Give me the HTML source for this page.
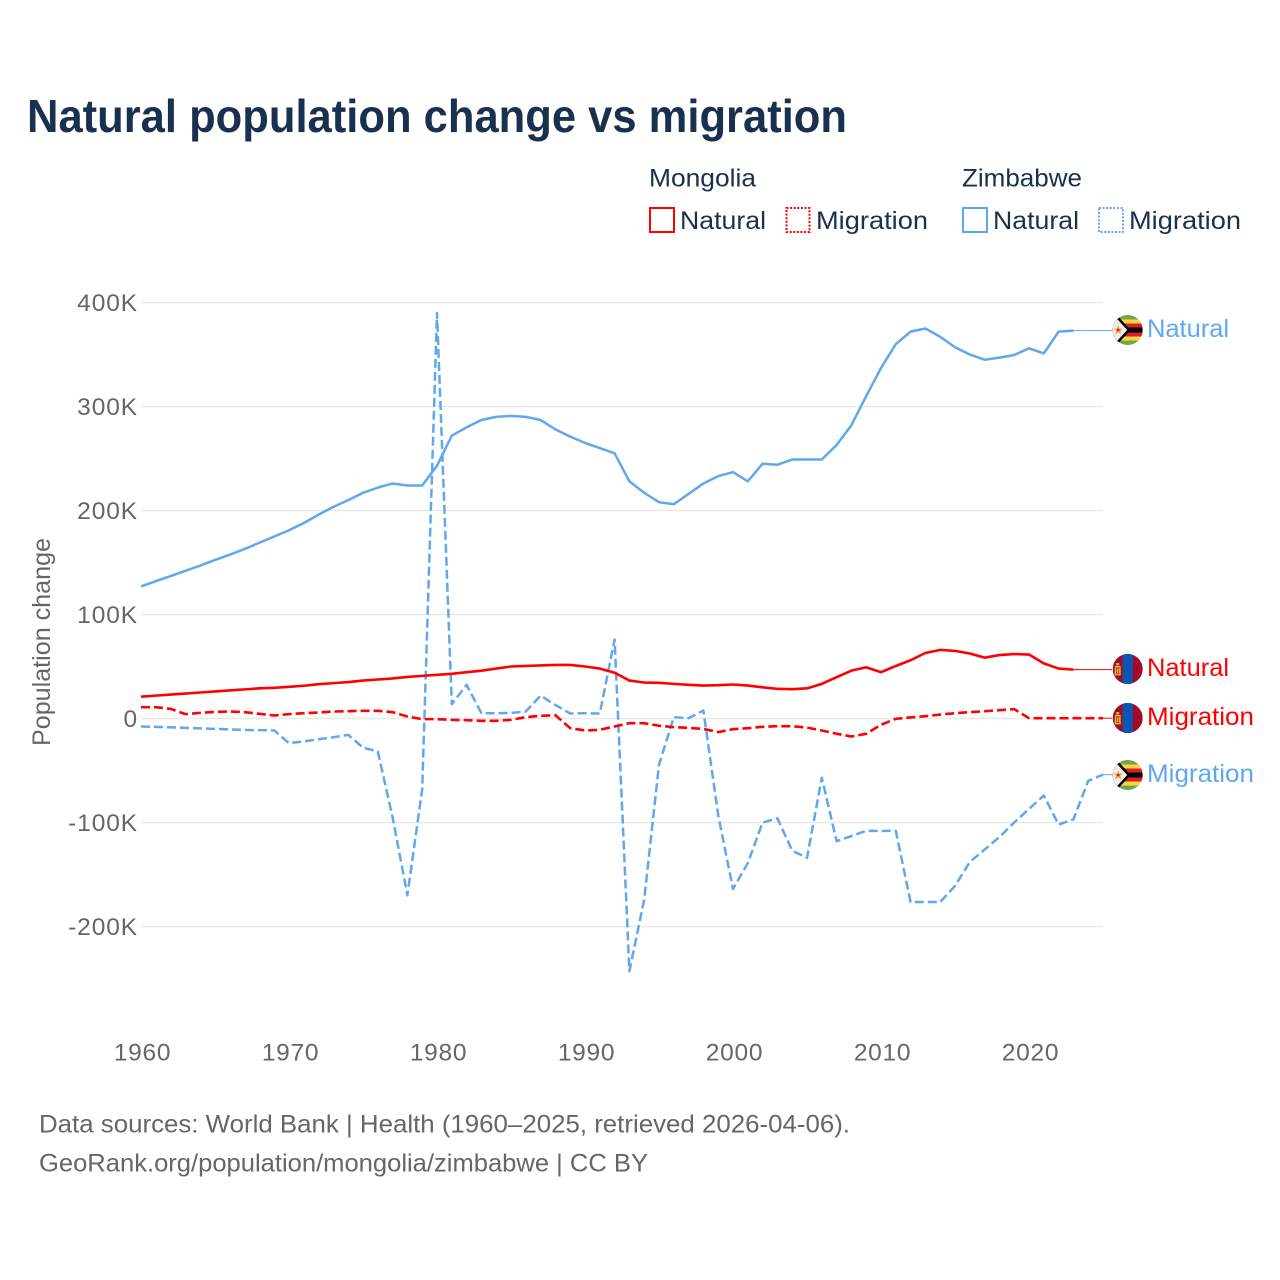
<!DOCTYPE html>
<html lang="en">
<head>
<meta charset="utf-8">
<title>Natural population change vs migration</title>
<style>
html,body{margin:0;padding:0;background:#fff}
svg{display:block}
text{font-family:"Liberation Sans",sans-serif}
</style>
</head>
<body>
<svg id="chart" xmlns="http://www.w3.org/2000/svg" width="1280" height="1280" viewBox="0 0 1280 1280">
  <defs>
    <clipPath id="flag-clip"><circle cx="0" cy="0" r="15"/></clipPath>
    <g id="flag-mn" clip-path="url(#flag-clip)">
      <rect x="-15" y="-15" width="30" height="30" fill="#a50a24"/>
      <rect x="-5.2" y="-15" width="10.4" height="30" fill="#0b56b3"/>
      <rect x="-11.5" y="-6" width="3" height="2.5" fill="#e6b53c"/>
      <rect x="-13" y="-3" width="6" height="1.6" fill="#e6b53c"/>
      <rect x="-13" y="-1" width="1.6" height="6" fill="#e6b53c"/>
      <rect x="-8.6" y="-1" width="1.6" height="6" fill="#e6b53c"/>
      <rect x="-10.8" y="-0.5" width="1.6" height="4.5" fill="#e6b53c"/>
      <rect x="-13" y="4.8" width="6" height="1.6" fill="#e6b53c"/>
    </g>
    <g id="flag-zw" clip-path="url(#flag-clip)">
      <rect x="-15" y="-15" width="30" height="30" fill="#72a84c"/>
      <rect x="-15" y="-10.5" width="30" height="21" fill="#fcd442"/>
      <rect x="-15" y="-6.5" width="30" height="13" fill="#d8202c"/>
      <rect x="-15" y="-2.5" width="30" height="5" fill="#000"/>
      <polygon points="-15,-15 -10.5,-14.5 3,0 -10.5,14.5 -15,15" fill="#000"/>
      <polygon points="-15,-12 -11.5,-12 -0.5,0 -11.5,12 -15,12" fill="#eeeeee"/>
      <polygon points="-9.5,-4.8 -8.2,-1.4 -4.8,-1.4 -7.5,0.8 -6.5,4.2 -9.5,2.2 -12.5,4.2 -11.5,0.8 -14.2,-1.4 -10.8,-1.4" fill="#f0a030"/>
      <circle cx="-9.5" cy="0" r="1.3" fill="#d8202c"/>
    </g>
  </defs>

  <rect x="0" y="0" width="1280" height="1280" fill="#ffffff"/>

  <text x="27" y="132" font-size="46" font-weight="700" fill="#19304f" textLength="820" lengthAdjust="spacingAndGlyphs">Natural population change vs migration</text>

  <g font-size="25" fill="#19304f">
    <text x="649" y="186.5" textLength="107" lengthAdjust="spacingAndGlyphs">Mongolia</text>
    <text x="962" y="186.5" textLength="120" lengthAdjust="spacingAndGlyphs">Zimbabwe</text>
    <g>
      <rect x="650" y="208" width="24" height="24" fill="none" stroke="#ff0000" stroke-width="2"/>
      <text x="680" y="229" textLength="86" lengthAdjust="spacingAndGlyphs">Natural</text>
    </g>
    <g>
      <rect x="786.5" y="208" width="23" height="24" fill="none" stroke="#ff0000" stroke-width="2" stroke-dasharray="2,1.6"/>
      <text x="816" y="229" textLength="112" lengthAdjust="spacingAndGlyphs">Migration</text>
    </g>
    <g>
      <rect x="963" y="208" width="24" height="24" fill="none" stroke="#5fa8ef" stroke-width="2"/>
      <text x="993" y="229" textLength="86" lengthAdjust="spacingAndGlyphs">Natural</text>
    </g>
    <g>
      <rect x="1099" y="208" width="24" height="24" fill="none" stroke="#5fa8ef" stroke-width="2" stroke-dasharray="2,1.6"/>
      <text x="1129" y="229" textLength="112" lengthAdjust="spacingAndGlyphs">Migration</text>
    </g>
  </g>

  <g id="grid"></g>
  <g id="yticks"></g>
  <g id="xticks"></g>
  <text x="0" y="0" transform="translate(50,746) rotate(-90)" font-size="25" fill="#666666" textLength="208" lengthAdjust="spacingAndGlyphs">Population change</text>
  <g id="series"></g>

  <g font-size="25">
    <use href="#flag-zw" x="1127.7" y="330"/>
    <text x="1147" y="337" fill="#5fa8ef" textLength="82" lengthAdjust="spacingAndGlyphs">Natural</text>
    <use href="#flag-mn" x="1127.7" y="669"/>
    <text x="1147" y="676" fill="#ff0000" textLength="82" lengthAdjust="spacingAndGlyphs">Natural</text>
    <use href="#flag-mn" x="1127.7" y="718"/>
    <text x="1147" y="725" fill="#ff0000" textLength="107" lengthAdjust="spacingAndGlyphs">Migration</text>
    <use href="#flag-zw" x="1127.7" y="775"/>
    <text x="1147" y="782" fill="#5fa8ef" textLength="107" lengthAdjust="spacingAndGlyphs">Migration</text>
  </g>

  <text x="39" y="1132.5" font-size="25" fill="#666666" textLength="811" lengthAdjust="spacingAndGlyphs">Data sources: World Bank | Health (1960–2025, retrieved 2026-04-06).</text>
  <text x="39" y="1171.5" font-size="25" fill="#666666" textLength="609" lengthAdjust="spacingAndGlyphs">GeoRank.org/population/mongolia/zimbabwe | CC BY</text>
</svg>
<script>
var startYear = 1960;
var xTickYears = [1960, 1970, 1980, 1990, 2000, 2010, 2020];
var yTickValues = [400, 300, 200, 100, 0, -100, -200];
var yTickLabels = ['400K', '300K', '200K', '100K', '0', '-100K', '-200K'];

var zimbabweNatural = [127,132,137,142,147,152.5,157.5,163,169,175,181,188,196,203.5,210,217,222,226,224,224,243,272,280,287,290,291,290,287,278,271,265,260,255,228,217,208,206,216,226,233,237,228,245,244,249,249,249,263,282,310,337,360,372,375,367,357,350,345,347,349.5,356,351,372,373];
var zimbabweMigration = [-7.7,-8,-8.5,-9,-9.5,-10,-10.5,-11,-11.2,-11.5,-23.7,-22,-20,-18,-15.7,-28,-31.7,-95,-170,-68,390,13.8,32.4,5.1,5.1,5.4,6.7,22,13,4.8,5.1,4.8,76,-243,-174,-44.5,1.3,0.3,7.7,-93,-164,-139,-100,-96,-127,-134,-57,-118,-113,-108,-108,-108,-176.5,-176.5,-176.5,-161,-138,-126,-114,-100,-87,-74,-102,-97,-60,-54];
var mongoliaNatural = [21,22,23,24,25,26,27,28,29,29.5,30.5,31.5,33,34,35,36.5,37.5,38.5,40,41,42,43,44.5,46,48,50,50.5,51,51.5,51.5,50,48,44,36.5,34.6,34.3,33.3,32.4,31.7,32,32.7,31.7,30,28.5,28.2,29,33.3,39.7,46,49.3,44.5,50.5,56,63,66,65,62.5,58.5,61,62,61.5,53,48,47];
var mongoliaMigration = [10.9,10.9,9.3,4.2,5.4,6.4,6.7,6.1,4.5,2.9,4.2,5.1,5.8,6.7,7,7.4,7.4,6.1,1.9,-0.6,-0.6,-1.3,-1.6,-2.2,-2.2,-1.3,1.3,2.6,3.2,-9.3,-11.5,-10.9,-7.7,-4.5,-4.5,-7,-8.3,-9,-10,-13.1,-10.3,-9.3,-8,-7.4,-7.4,-8.7,-11.5,-14.7,-17.3,-14.7,-6,-0.3,1,2.2,3.8,5.1,6.1,7,8,9,0.3,0.3,0.3,0.3,0.3,0.3];

var NS = 'http://www.w3.org/2000/svg';
function xScale(year) { return 141 + (year - 1960) * 14.8; }
function yScale(value) { return 718.5 - value * 1.04; }

function make(tag, attrs, parent) {
  var el = document.createElementNS(NS, tag);
  for (var k in attrs) el.setAttribute(k, attrs[k]);
  parent.appendChild(el);
  return el;
}

var gridG = document.getElementById('grid');
var yG = document.getElementById('yticks');
var xG = document.getElementById('xticks');
var seriesG = document.getElementById('series');

yTickValues.forEach(function (v, i) {
  var line = make('line', { x1: 141, x2: 1103, y1: yScale(v), y2: yScale(v), stroke: '#e9e9e9', 'stroke-width': 1.4 }, gridG);
  
  
  var t = make('text', { x: 138, y: yScale(v) + 8.5, 'text-anchor': 'end', 'font-size': 24.5, 'letter-spacing': 0.9, fill: '#666666' }, yG);
  
  
  t.textContent = yTickLabels[i];
});

xTickYears.forEach(function (yr) {
  var t = make('text', { x: xScale(yr) + 1.5, y: 1060.5, 'text-anchor': 'middle', 'font-size': 24.5, 'letter-spacing': 0.7, fill: '#666666' }, xG);
  
  
  t.textContent = String(yr);
});

function pathFrom(values) {
  return values.map(function (v, i) {
    return (i ? 'L' : 'M') + xScale(startYear + i).toFixed(2) + ' ' + yScale(v).toFixed(2);
  }).join(' ');
}

function drawSeries(values, color, width, dash, name) {
  var p = make('path', { d: pathFrom(values), fill: 'none', stroke: color, 'stroke-width': width, 'stroke-linejoin': 'round' }, seriesG);
  if (dash) p.setAttribute('stroke-dasharray', dash);
  
  
}

function drawConnector(values, color, endY, name) {
  var last = values.length - 1;
  var c = make('line', { x1: xScale(startYear + last), y1: yScale(values[last]), x2: 1112, y2: endY, stroke: color, 'stroke-width': 1 }, seriesG);
  
  
}

drawSeries(zimbabweMigration, '#5fa8ef', 2.5, '9,4', 'line-zimbabwe-migration');
drawSeries(zimbabweNatural, '#5fa8ef', 2.5, null, 'line-zimbabwe-natural');
drawSeries(mongoliaMigration, '#ff0000', 2.6, '9,4', 'line-mongolia-migration');
drawSeries(mongoliaNatural, '#ff0000', 2.6, null, 'line-mongolia-natural');
drawConnector(zimbabweNatural, '#5fa8ef', yScale(zimbabweNatural[zimbabweNatural.length - 1]), 'connector-zimbabwe-natural');
drawConnector(mongoliaNatural, '#ff0000', yScale(mongoliaNatural[mongoliaNatural.length - 1]), 'connector-mongolia-natural');
drawConnector(mongoliaMigration, '#ff0000', yScale(mongoliaMigration[mongoliaMigration.length - 1]), 'connector-mongolia-migration');
drawConnector(zimbabweMigration, '#5fa8ef', yScale(zimbabweMigration[zimbabweMigration.length - 1]), 'connector-zimbabwe-migration');
</script>
</body>
</html>
